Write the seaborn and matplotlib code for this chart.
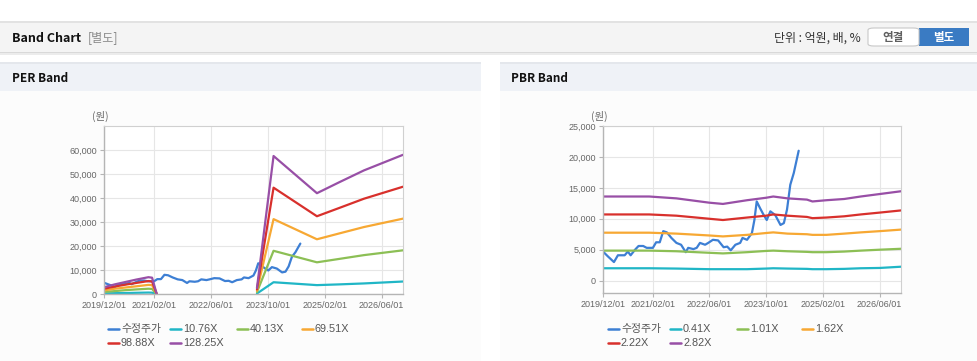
import pandas as pd
import seaborn as sns
import matplotlib.pyplot as plt
from matplotlib.patches import Rectangle, FancyBboxPatch
from matplotlib.lines import Line2D
from matplotlib.ticker import FuncFormatter

W, H = 978, 361

# ---- data ----
price_dates = ["2019-12-01", "2020-01-13", "2020-03-04", "2020-04-07", "2020-06-04", "2020-07-01",
               "2020-07-25", "2020-09-01", "2020-10-01", "2020-11-10", "2020-12-10", "2021-02-01",
               "2021-03-01", "2021-04-01", "2021-05-01", "2021-06-01", "2021-07-10", "2021-08-22",
               "2021-10-01", "2021-11-10", "2021-12-01", "2022-01-15", "2022-02-12", "2022-03-12",
               "2022-04-25", "2022-05-22", "2022-07-01", "2022-08-15", "2022-10-01", "2022-11-01",
               "2022-12-01", "2023-01-10", "2023-02-20", "2023-03-12", "2023-04-20", "2023-06-01",
               "2023-06-22", "2023-07-12", "2023-08-10", "2023-09-10", "2023-10-06", "2023-11-06",
               "2023-12-18", "2024-02-01", "2024-03-01", "2024-03-28", "2024-04-25", "2024-05-25",
               "2024-06-22", "2024-07-06"]
price = [4700, 3900, 3000, 4100, 4100, 4700, 4100, 5000, 5600, 5600, 5300, 5300,
         6200, 6200, 8000, 7800, 6900, 6100, 5800, 4600, 5300, 5100, 5300, 6100,
         5800, 6100, 6600, 6500, 5400, 5500, 4900, 5800, 6100, 6900, 6600, 7700,
         9800, 12800, 11700, 10600, 9800, 11200, 10600, 9000, 9300, 11500, 15500, 17400,
         19800, 21000]

# PER band: two separate segments
per_dates_a = ["2019-12-01", "2020-03-01", "2020-06-01", "2020-09-01", "2020-12-15", "2021-01-15", "2021-02-24"]
per_dates_b = ["2023-07-01", "2023-11-20", "2024-11-25", "2025-06-01", "2026-01-01", "2026-12-01"]
per_labels = ["10.76X", "40.13X", "69.51X", "98.88X", "128.25X"]
per_10_76_a = [250, 350, 400, 500, 600, 550, 0]
per_40_13_a = [900, 1200, 1600, 1900, 2200, 2100, 0]
per_69_51_a = [1500, 2200, 2700, 3200, 3800, 3700, 0]
per_98_88_a = [2200, 3100, 3900, 4600, 5400, 5200, 0]
per_128_25_a = [2800, 4000, 5000, 6000, 7000, 6800, 0]
per_10_76_b = [200, 4900, 3700, 4000, 4400, 5200]
per_40_13_b = [800, 18000, 13200, 14600, 16200, 18200]
per_69_51_b = [1400, 31200, 22800, 25200, 27900, 31400]
per_98_88_b = [1900, 44300, 32400, 35800, 39700, 44700]
per_128_25_b = [2500, 57500, 42000, 46500, 51500, 58000]

# PBR band
pbr_dates = ["2019-12-01", "2021-01-01", "2021-08-22", "2022-06-01", "2022-09-25", "2023-04-20",
             "2023-10-01", "2023-12-01", "2024-04-01", "2024-09-15", "2024-11-01", "2025-03-01",
             "2025-08-01", "2025-12-20", "2026-06-01", "2026-12-01"]
pbr_labels = ["0.41X", "1.01X", "1.62X", "2.22X", "2.82X"]
pbr_0_41 = [2000, 2000, 1950, 1850, 1850, 1850, 1950, 2000, 1950, 1900, 1850, 1850, 1900, 2000, 2050, 2250]
pbr_1_01 = [4850, 4850, 4750, 4500, 4400, 4600, 4800, 4850, 4750, 4650, 4600, 4600, 4700, 4850, 5000, 5150]
pbr_1_62 = [7750, 7750, 7600, 7300, 7150, 7400, 7700, 7800, 7600, 7500, 7400, 7400, 7600, 7800, 8000, 8250]
pbr_2_22 = [10700, 10700, 10500, 10000, 9800, 10200, 10500, 10700, 10500, 10300, 10100, 10200, 10400, 10700, 11000, 11350]
pbr_2_82 = [13600, 13600, 13300, 12600, 12400, 13000, 13400, 13600, 13300, 13100, 12800, 13000, 13200, 13600, 14000, 14450]

tick_dates = ["2019-12-01", "2021-02-01", "2022-06-01", "2023-10-01", "2025-02-01", "2026-06-01"]

colors = ["#3d7fd4", "#20b6c6", "#8cbf55", "#f7a833", "#d8302c", "#984fa6"]
price_name = "수정주가"

TXT = ["Liberation Sans", "Noto Sans CJK KR", "DejaVu Sans"]
KR = ["Noto Sans CJK KR", "DejaVu Sans"]


def long_frame(parts):
    rows = []
    for name, seg, dates, vals in parts:
        for d, v in zip(dates, vals):
            rows.append({"date": pd.Timestamp(d), "value": v, "series": name, "seg": seg})
    return pd.DataFrame(rows)


per_df = long_frame(
    [(price_name, 0, price_dates, price)]
    + [(lab, 0, per_dates_a, v) for lab, v in zip(per_labels, [per_10_76_a, per_40_13_a, per_69_51_a, per_98_88_a, per_128_25_a])]
    + [(lab, 1, per_dates_b, v) for lab, v in zip(per_labels, [per_10_76_b, per_40_13_b, per_69_51_b, per_98_88_b, per_128_25_b])]
)
pbr_df = long_frame(
    [(price_name, 0, price_dates, price)]
    + [(lab, 0, pbr_dates, v) for lab, v in zip(pbr_labels, [pbr_0_41, pbr_1_01, pbr_1_62, pbr_2_22, pbr_2_82])]
)

sns.set_theme(style="white")
plt.rcParams["font.family"] = TXT

fig = plt.figure(figsize=(W / 100, H / 100), dpi=100)
fig.patch.set_facecolor("white")


def box(x0, y0, x1, y1, **kw):
    # pixel box, top-left origin
    fig.patches.append(Rectangle((x0 / W, 1 - y1 / H), (x1 - x0) / W, (y1 - y0) / H,
                                 transform=fig.transFigure, zorder=-5, **kw))


def ftext(x, y, s, **kw):
    fig.text(x / W, 1 - y / H, s, **kw)


# page header
box(0, 21, W, 23, color="#e2e2e2", lw=0)
box(0, 23, W, 52, color="#f4f4f4", lw=0)
box(0, 52, W, 53, color="#d9d9d9", lw=0)
box(0, 53, W, 55, color="#ececec", lw=0)
ftext(12, 38, "Band Chart", fontsize=9, fontweight="bold", family=KR, va="center", color="#111111")
ftext(88, 38, "[별도]", fontsize=8.7, family=KR, va="center", color="#8a8a8a")
ftext(861, 38, "단위 : 억원, 배, %", fontsize=8.6, family=KR, va="center", ha="right", color="#333333")
fig.patches.append(FancyBboxPatch((868 / W, 1 - 46 / H), 51 / W, 18 / H, boxstyle="round,pad=0,rounding_size=0.006",
                                  transform=fig.transFigure, fc="white", ec="#c8c8c8", lw=0.8, zorder=-4))
box(919, 28, 969, 46, color="#3a7bc3", lw=0)
ftext(893, 37.5, "연결", fontsize=8.3, fontweight="bold", family=KR, va="center", ha="center", color="#606060")
ftext(944, 37.5, "별도", fontsize=8.3, fontweight="bold", family=KR, va="center", ha="center", color="white")

# panels
for x0, x1, title, tx in [(0, 481, "PER Band", 12), (500, W, "PBR Band", 511)]:
    box(x0, 62, x1, 64, color="#e4e7ec", lw=0)
    box(x0, 64, x1, 91, color="#eff2f7", lw=0)
    box(x0, 91, x1, H, color="#fcfcfc", lw=0)
    ftext(tx, 78, title, fontsize=8.5, fontweight="bold", family=KR, va="center", color="#111111")


def make_axes(x0, x1, y0, y1):
    a = fig.add_axes([x0 / W, 1 - y1 / H, (x1 - x0) / W, (y1 - y0) / H])
    a.set_zorder(2)
    return a


ax1 = make_axes(104, 403, 126, 294)
ax2 = make_axes(603, 901, 126, 293)

hue_per = [price_name] + per_labels
hue_pbr = [price_name] + pbr_labels

for ax, df, order in [(ax1, per_df, hue_per), (ax2, pbr_df, hue_pbr)]:
    sns.lineplot(data=df, x="date", y="value", hue="series", hue_order=order, units="seg",
                 estimator=None, palette=colors, linewidth=1.6, ax=ax, legend=False)
    ax.set_xlim(pd.Timestamp("2019-12-01"), pd.Timestamp("2026-12-01"))
    ax.set_xticks([pd.Timestamp(d) for d in tick_dates])
    ax.set_xticklabels([d.replace("-", "/") for d in tick_dates])
    ax.yaxis.set_major_formatter(FuncFormatter(lambda v, p: f"{int(v):,}"))
    ax.set_xlabel("")
    ax.set_ylabel("")
    ax.set_facecolor("white")
    ax.grid(True, color="#e6e6e6", lw=0.8)
    for side in ["top", "right"]:
        ax.spines[side].set_color("#d0d0d0")
        ax.spines[side].set_linewidth(0.8)
    for side in ["left", "bottom"]:
        ax.spines[side].set_color("#b5b5b5")
        ax.spines[side].set_linewidth(1.0)
    ax.tick_params(axis="both", colors="#b5b5b5", labelcolor="#666666", labelsize=6.5,
                   length=3, width=0.8, left=True, bottom=True, pad=2)

ax1.set_ylim(0, 70000)
ax1.set_yticks(range(0, 60001, 10000))
ax2.set_ylim(-2000, 25000)
ax2.set_yticks(range(0, 25001, 5000))

ftext(100, 116, "(원)", fontsize=7.5, family=KR, ha="center", va="center", color="#666666")
ftext(599, 116, "(원)", fontsize=7.5, family=KR, ha="center", va="center", color="#666666")

# legends in fixed-width columns, filled row by row
col_off = [0, 62, 129, 194]
for base, order in [(108, hue_per), (608, hue_pbr)]:
    for i, (name, c) in enumerate(zip(order, colors)):
        x = base + col_off[i % 4]
        y = 329 + 13.5 * (i // 4)
        fig.lines.append(Line2D([x / W, (x + 11) / W], [1 - y / H, 1 - y / H], color=c, lw=1.8,
                                transform=fig.transFigure))
        ftext(x + 13, y, name, fontsize=7.8, va="center", color="#555555")

fig.savefig("out.png", dpi=100)
